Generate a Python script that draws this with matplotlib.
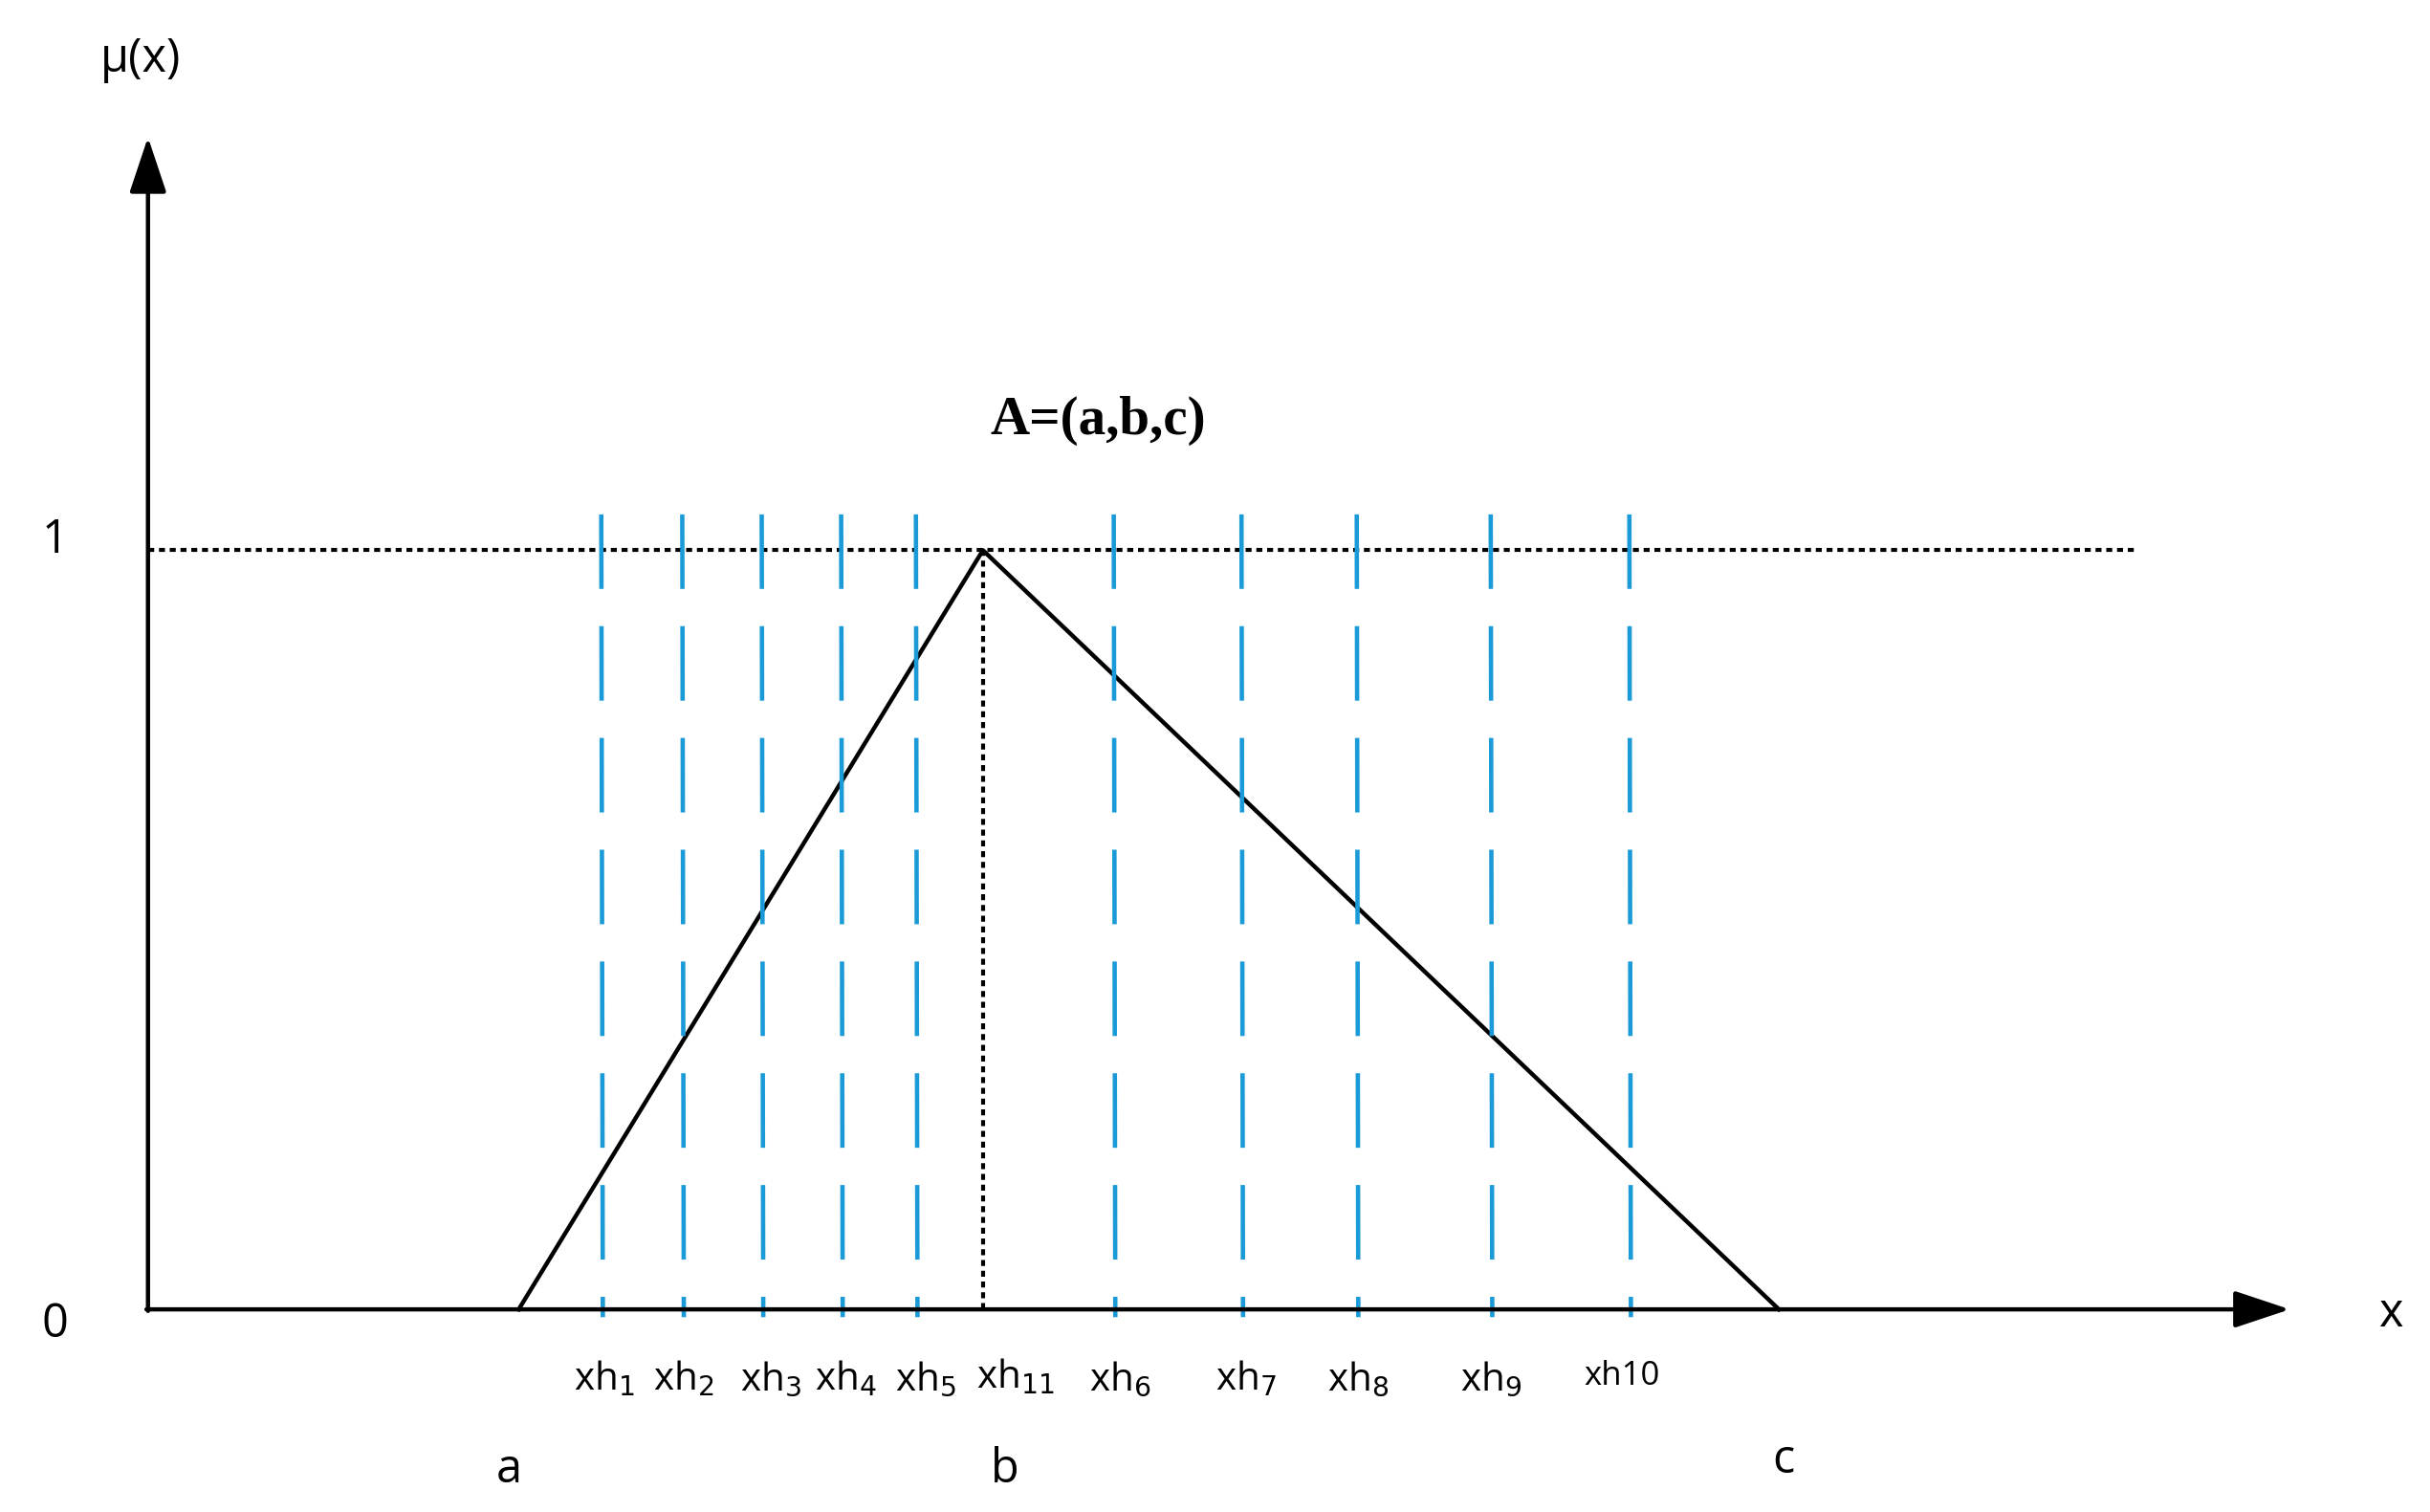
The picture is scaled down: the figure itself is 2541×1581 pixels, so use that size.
import matplotlib
matplotlib.use("Agg")
import matplotlib.pyplot as plt

# data (x in horizontal units, mu membership)
a, b, c = 333, 631, 1142
tri_x = [a, b, c]
tri_mu = [0, 1, 0]
xh_pos = [386, 438, 489, 540, 588, 715, 797, 871, 957, 1046]
xh_names = ["1", "2", "3", "4", "5", "6", "7", "8", "9", "10"]
label_x = [388, 439, 495, 543, 594, 719, 800, 872, 957, 1041]

Y0, S = 840, 487
def py(m):
    return Y0 - m * S

fig = plt.figure(figsize=(25.41, 15.81), dpi=100)
ax = fig.add_axes([0, 0, 1, 1])
ax.set_xlim(0, 1560)
ax.set_ylim(970, 0)
ax.axis("off")

ax.annotate('', xy=(95, 88), xytext=(95, 841),
            arrowprops=dict(arrowstyle='-|>,head_length=3.6,head_width=1.2', lw=3.2, color='k', shrinkA=0, shrinkB=0))
ax.annotate('', xy=(1470, 840), xytext=(94, 840),
            arrowprops=dict(arrowstyle='-|>,head_length=3.6,head_width=1.2', lw=3.2, color='k', shrinkA=0, shrinkB=0))

ax.plot([95, 1370], [py(1), py(1)], color='k', lw=3, ls=(0, (1.5, 1.2)))
ax.plot([b, b], [py(1), py(0)], color='k', lw=3, ls=(0, (1.5, 1.2)))
ax.plot(tri_x, [py(m) for m in tri_mu], color='k', lw=3.2)

for x in xh_pos:
    ax.plot([x, x + 1], [330, 845], color='#1a9ad6', lw=3.3, ls=(0, (17, 8.5)))

fam = ['Open Sans', 'DejaVu Sans']
for x, n in zip(label_x, xh_names):
    if n == "10":
        ax.text(x, 883, "xh10", fontsize=25, ha='center', va='center', family=fam)
    else:
        ax.text(x, 885, f"xh$_{{{n}}}$", fontsize=29, ha='center', va='center', family=fam)
ax.text(652, 884, "xh$_{11}$", fontsize=29, ha='center', va='center', family=fam)

ax.text(705, 270, "A=(a,b,c)", fontsize=41, fontweight='bold', ha='center', va='center', family='Liberation Serif')
ax.text(90, 38, "μ(x)", fontsize=35, ha='center', va='center', family=fam)
ax.text(35, 347, "1", fontsize=35, ha='center', va='center', family=fam)
ax.text(35, 850, "0", fontsize=35, ha='center', va='center', family=fam)
ax.text(1535, 843, "x", fontsize=35, ha='center', va='center', family=fam)
ax.text(327, 943, "a", fontsize=35, ha='center', va='center', family=fam)
ax.text(645, 943, "b", fontsize=35, ha='center', va='center', family=fam)
ax.text(1145, 937, "c", fontsize=35, ha='center', va='center', family=fam)

fig.savefig("out.png", dpi=100)
